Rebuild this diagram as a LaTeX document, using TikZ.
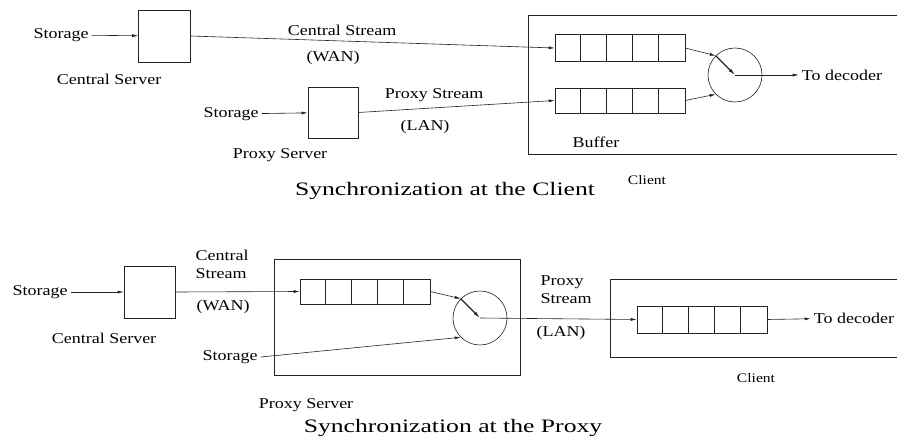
\documentclass[tikz,border=0pt]{standalone}
\usepackage{fontspec}
\setmainfont{Liberation Serif}[FakeStretch=1.2]
\newfontfamily\ttlfont{Liberation Serif}[FakeStretch=1.35]
\usepackage{tikz}
\usetikzlibrary{arrows.meta,positioning,calc}
\definecolor{clrL}{RGB}{35,35,35}
\tikzset{
  box/.style={rectangle,draw=clrL,line width=0.6pt,inner sep=0pt},
  server/.style={box,minimum width=52pt,minimum height=52pt},
  buffer/.style={box,minimum width=130pt,minimum height=27pt},
  switch/.style={circle,draw=clrL,line width=0.6pt,minimum size=54pt,inner sep=0pt},
  lbl/.style={font=\fontsize{15}{18}\selectfont,inner sep=3pt},
  small/.style={font=\fontsize{13}{15}\selectfont,inner sep=2pt},
  ttl/.style={font=\ttlfont\fontsize{19}{22}\selectfont,inner sep=0pt},
  wire/.style={draw=clrL,line width=0.6pt},
  arrow/.style={wire,-{Latex[length=6pt,width=3pt]}},
  lever/.style={draw=clrL,line width=1.1pt,-{Latex[length=7pt,width=3.5pt]}}
}
\newcommand{\cells}[1]{%
  \foreach \i in {1,...,4}
    \draw[wire] ([xshift=\i*26pt]#1.north west) -- ([xshift=\i*26pt]#1.south west);}

\begin{document}
\begin{tikzpicture}[x=1pt,y=-1pt]
  \useasboundingbox (0,0) rectangle (897,447);
  % synchronization at the client
  \draw[wire] (897,15) -- (528,15) -- (528,154) -- (897,154);
  \node[lbl] (stoC) at (61,35) {Storage};
  \node[server] (srvC) at (164.5,36) {};
  \node[lbl] (srvCl) at (109,79) {Central Server};
  \node[lbl] (stoP) at (231,114) {Storage};
  \node[server,minimum width=50pt,minimum height=51pt] (srvP) at (333,112.5) {};
  \node[lbl] (srvPl) at (280,155) {Proxy Server};
  \node[buffer] (bufA) at (620,48) {};
  \node[buffer,minimum height=25pt] (bufB) at (620,100.5) {};
  \cells{bufA}
  \cells{bufB}
  \node[switch] (swC) at (735,75) {};
  \node[lbl] (decC) at (842,75) {To decoder};
  \node[lbl] (strC) at (342,30) {Central Stream};
  \node[lbl] (wanC) at (333,58) {(WAN)};
  \node[lbl] (strP) at (434,95) {Proxy Stream};
  \node[lbl] (lanC) at (425,127) {(LAN)};
  \node[lbl] (bufl) at (596,142) {Buffer};
  \node[small] (cliC) at (647,180) {Client};
  \node[ttl] (ttlC) at (445,191) {Synchronization at the Client};
  \draw[arrow] (stoC) -- (srvC);
  \draw[arrow] (stoP) -- (srvP);
  \draw[arrow] (srvC.east) -- (bufA.west);
  \draw[arrow] (srvP.east) -- (bufB.west);
  \draw[arrow] (bufA.east) -- (swC.135);
  \draw[arrow] (bufB.east) -- (swC.225);
  \draw[lever] (swC.135) -- (swC.center);
  \draw[arrow] (swC.center) -- (decC);
  % synchronization at the proxy
  \draw[wire] (274,259) rectangle (520,375);
  \draw[wire] (897,279) -- (610,279) -- (610,357) -- (897,357);
  \node[lbl] (stoB) at (40,292) {Storage};
  \node[server,minimum width=51pt] (srvB) at (149.5,292) {};
  \node[lbl] (srvBl) at (104,338) {Central Server};
  \node[lbl,align=left] (strB) at (222,264) {Central\\Stream};
  \node[lbl] (wanB) at (223,307) {(WAN)};
  \node[lbl] (stoB2) at (230,357) {Storage};
  \node[buffer,minimum height=25pt] (bufP) at (365,291.5) {};
  \cells{bufP}
  \node[switch] (swP) at (480,318) {};
  \node[lbl,align=left] (strL) at (566,290) {Proxy\\Stream};
  \node[lbl] (lanB) at (561,333) {(LAN)};
  \node[buffer] (bufCl) at (702,319.5) {};
  \cells{bufCl}
  \node[lbl] (decP) at (854,318) {To decoder};
  \node[small] (cliP) at (756,378) {Client};
  \node[lbl] (prxl) at (306,405) {Proxy Server};
  \node[ttl] (ttlP) at (453,428) {Synchronization at the Proxy};
  \draw[arrow] (stoB) -- (srvB);
  \draw[arrow] (srvB.east) -- (bufP.west);
  \draw[arrow] (bufP.east) -- (swP.135);
  \draw[arrow] (stoB2.east) -- (swP.225);
  \draw[lever] (swP.135) -- (swP.center);
  \draw[arrow] (swP.center) -- (bufCl.west);
  \draw[arrow] (bufCl.east) -- (decP);
\end{tikzpicture}
\end{document}
